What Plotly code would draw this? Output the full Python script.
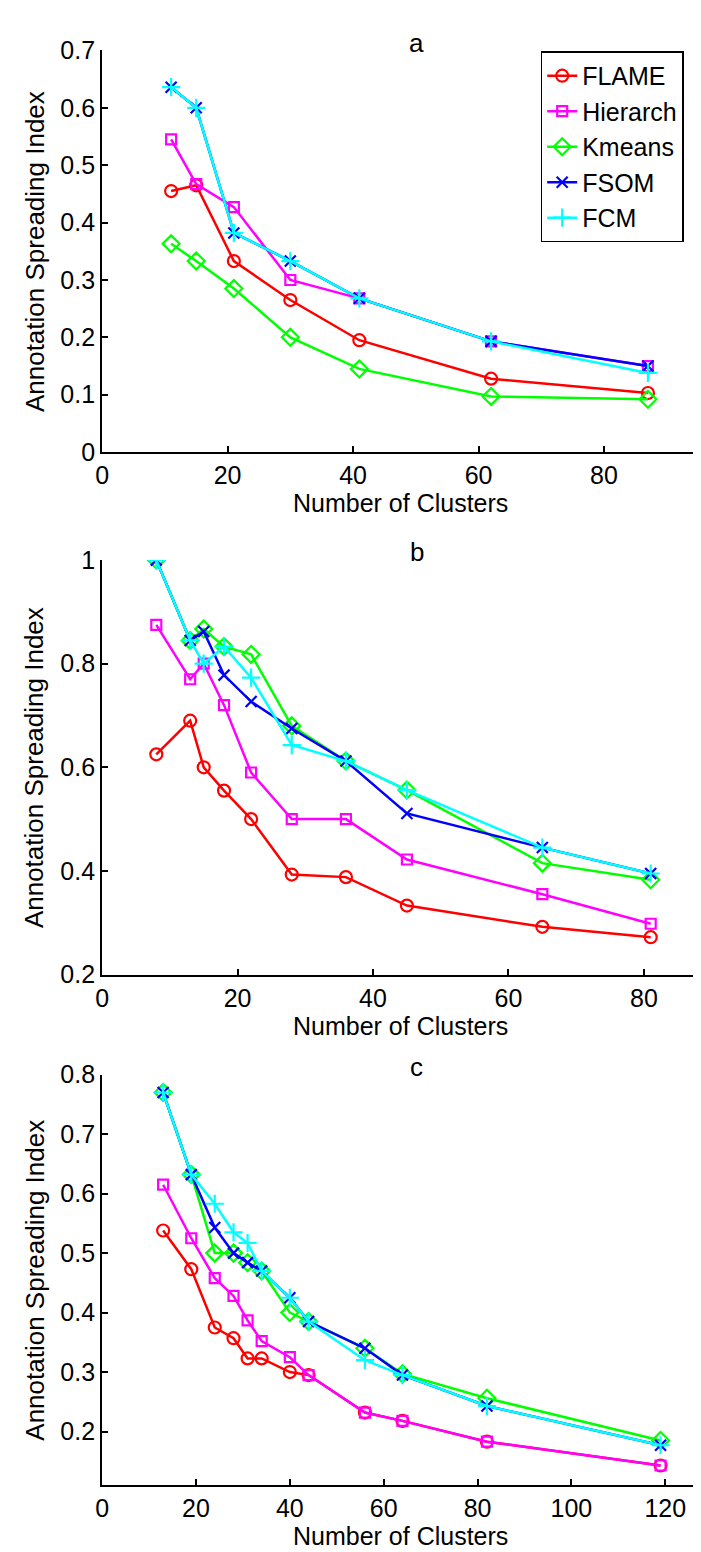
import plotly.graph_objects as go

W, H = 701, 1552

series_names = ["FLAME", "Hierarch", "Kmeans", "FSOM", "FCM"]
series_colors = ["#FF0000", "#FF00FF", "#00FF00", "#0000FF", "#00FFFF"]
series_symbols = ["circle-open", "square-open", "diamond-open", "x-thin-open", "cross-thin-open"]
series_sizes = [12, 10, 13, 11, 13]

# Panel a
xa = [11, 15, 21, 30, 41, 62, 87]
a_flame = [0.455, 0.465, 0.333, 0.265, 0.195, 0.128, 0.103]
a_hier = [0.545, 0.467, 0.427, 0.300, 0.268, 0.193, 0.150]
a_kmeans = [0.363, 0.333, 0.285, 0.200, 0.145, 0.097, 0.092]
a_fsom = [0.636, 0.600, 0.382, 0.333, 0.268, 0.193, 0.150]
a_fcm = [0.636, 0.600, 0.382, 0.333, 0.268, 0.193, 0.138]

# Panel b
xb = [8, 13, 15, 18, 22, 28, 36, 45, 65, 81]
b_flame = [0.625, 0.690, 0.600, 0.555, 0.500, 0.393, 0.388, 0.333, 0.292, 0.272]
b_hier = [0.875, 0.770, 0.800, 0.720, 0.590, 0.500, 0.500, 0.422, 0.355, 0.298]
b_kmeans = [1.000, 0.845, 0.867, 0.833, 0.818, 0.680, 0.612, 0.556, 0.415, 0.383]
b_fsom = [1.000, 0.845, 0.862, 0.778, 0.727, 0.675, 0.612, 0.511, 0.445, 0.395]
b_fcm = [1.000, 0.845, 0.800, 0.833, 0.773, 0.643, 0.612, 0.556, 0.445, 0.395]

# Panel c
xc = [13, 19, 24, 28, 31, 34, 40, 44, 56, 64, 82, 119]
c_flame = [0.538, 0.473, 0.375, 0.357, 0.323, 0.323, 0.300, 0.295, 0.232, 0.218, 0.183, 0.143]
c_hier = [0.615, 0.525, 0.458, 0.428, 0.387, 0.352, 0.325, 0.295, 0.232, 0.218, 0.183, 0.143]
c_kmeans = [0.770, 0.632, 0.500, 0.500, 0.484, 0.470, 0.400, 0.385, 0.340, 0.297, 0.256, 0.185]
c_fsom = [0.770, 0.632, 0.543, 0.500, 0.484, 0.470, 0.425, 0.385, 0.340, 0.295, 0.243, 0.177]
c_fcm = [0.770, 0.632, 0.583, 0.535, 0.517, 0.470, 0.425, 0.385, 0.320, 0.295, 0.243, 0.177]

panel_titles = ["a", "b", "c"]
x_title = "Number of Clusters"
y_title = "Annotation Spreading Index"

a_xticks = [0, 20, 40, 60, 80]
b_xticks = [0, 20, 40, 60, 80]
c_xticks = [0, 20, 40, 60, 80, 100, 120]
a_yticks = [0, 0.1, 0.2, 0.3, 0.4, 0.5, 0.6, 0.7]
a_ylabels = ["0", "0.1", "0.2", "0.3", "0.4", "0.5", "0.6", "0.7"]
b_yticks = [0.2, 0.4, 0.6, 0.8, 1.0]
b_ylabels = ["0.2", "0.4", "0.6", "0.8", "1"]
c_yticks = [0.2, 0.3, 0.4, 0.5, 0.6, 0.7, 0.8]
c_ylabels = ["0.2", "0.3", "0.4", "0.5", "0.6", "0.7", "0.8"]

FONT = "Liberation Sans, Arial, sans-serif"

panels = [
    dict(x=xa, ys=[a_flame, a_hier, a_kmeans, a_fsom, a_fcm], xr=[0, 95], yr=[0, 0.7],
         xt=a_xticks, yt=a_yticks, yl=a_ylabels, top=29, bot=438),
    dict(x=xb, ys=[b_flame, b_hier, b_kmeans, b_fsom, b_fcm], xr=[0, 88], yr=[0.2, 1.0],
         xt=b_xticks, yt=b_yticks, yl=b_ylabels, top=548, bot=970),
    dict(x=xc, ys=[c_flame, c_hier, c_kmeans, c_fsom, c_fcm], xr=[0, 127], yr=[0.11, 0.8],
         xt=c_xticks, yt=c_yticks, yl=c_ylabels, top=1072, bot=1490),
]

LEFT, RIGHT = 88, 690

fig = go.Figure()
annotations = []
layout = {}
for i, p in enumerate(panels):
    n = "" if i == 0 else str(i + 1)
    xref = "x" + n
    yref = "y" + n
    for k in range(5):
        fig.add_trace(go.Scatter(
            x=p["x"], y=p["ys"][k], mode="lines+markers", name=series_names[k],
            xaxis=xref, yaxis=yref, showlegend=(i == 0),
            line=dict(color=series_colors[k], width=2.5),
            marker=dict(symbol=series_symbols[k], size=series_sizes[k],
                        color=series_colors[k], line=dict(width=2.2, color=series_colors[k])),
        ))
    dom_y = [1 - p["bot"] / H, 1 - p["top"] / H]
    axis_common = dict(showline=True, linecolor="black", linewidth=2, mirror=False,
                       ticks="inside", ticklen=6, tickwidth=2, tickcolor="black",
                       showgrid=False, zeroline=False,
                       tickfont=dict(family=FONT, size=25, color="black"))
    layout["xaxis" + n] = dict(domain=[LEFT / W, RIGHT / W], range=p["xr"],
                               tickvals=p["xt"], anchor=yref, ticklabelstandoff=0,
                               **axis_common)
    layout["yaxis" + n] = dict(domain=dom_y, range=p["yr"], tickvals=p["yt"],
                               ticktext=p["yl"], anchor=xref, **axis_common)
    # panel title
    annotations.append(dict(text=panel_titles[i], x=406 / W, y=1 - (p["top"] - 8) / H,
                            xref="paper", yref="paper", showarrow=False,
                            xanchor="center", yanchor="middle",
                            font=dict(family=FONT, size=26, color="black")))
    # x title
    annotations.append(dict(text=x_title, x=(LEFT + RIGHT) / 2 / W, y=1 - (p["bot"] + 52) / H,
                            xref="paper", yref="paper", showarrow=False,
                            xanchor="center", yanchor="middle",
                            font=dict(family=FONT, size=25, color="black")))
    # y title
    annotations.append(dict(text=y_title, x=20 / W, y=1 - (p["top"] + p["bot"]) / 2 / H,
                            xref="paper", yref="paper", showarrow=False, textangle=-90,
                            xanchor="center", yanchor="middle",
                            font=dict(family=FONT, size=26, color="black")))

fig.update_layout(
    width=W, height=H,
    margin=dict(l=0, r=0, t=0, b=0),
    paper_bgcolor="white", plot_bgcolor="white",
    annotations=annotations,
    legend=dict(x=531 / W, y=1 - 30 / H, xanchor="left", yanchor="top",
                bordercolor="black", borderwidth=1.5, bgcolor="white",
                font=dict(family=FONT, size=25, color="black"), tracegroupgap=0),
    **layout,
)

fig.write_html("out.html")
